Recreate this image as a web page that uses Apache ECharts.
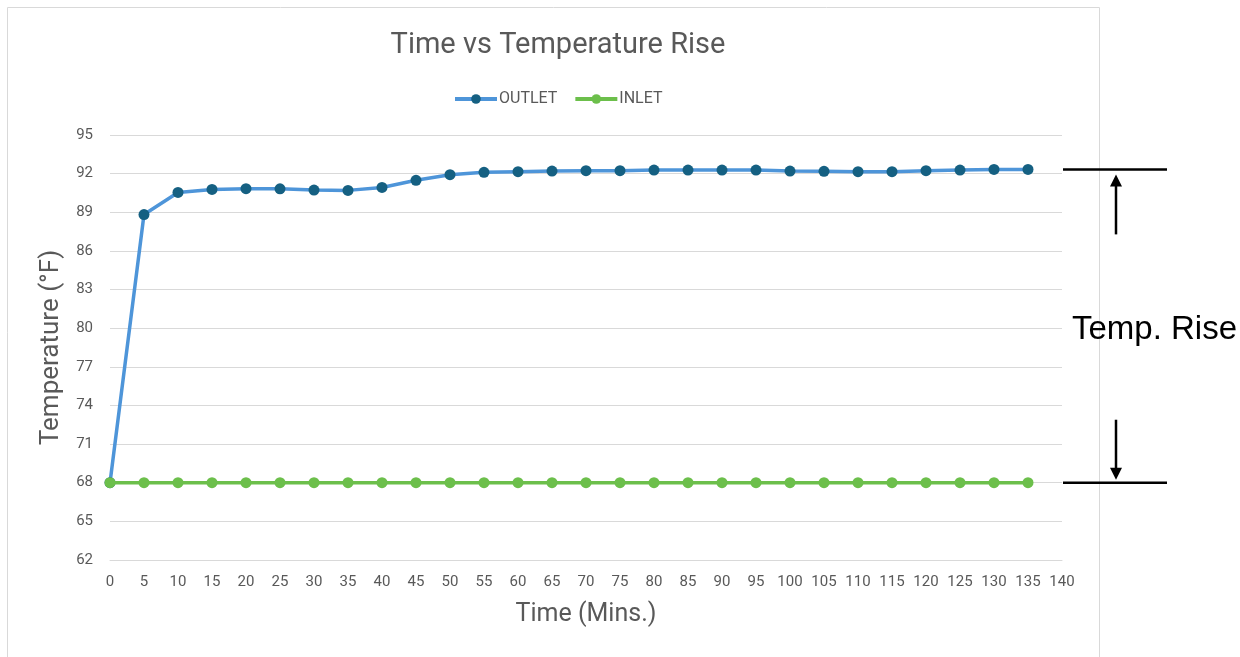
<!DOCTYPE html>
<html><head><meta charset="utf-8">
<script src="https://cdn.jsdelivr.net/npm/echarts@6/dist/echarts.min.js"></script>
<style>html,body{margin:0;padding:0;background:#fff}#c{width:1240px;height:657px}</style>
</head><body><div id="c"></div>
<script>
const timeLabels = ['0','5','10','15','20','25','30','35','40','45','50','55','60','65','70','75','80','85','90','95','100','105','110','115','120','125','130','135','140'];
const outlet = [68, 88.82, 90.54, 90.77, 90.83, 90.82, 90.72, 90.7, 90.93, 91.48, 91.92, 92.1, 92.15, 92.2, 92.23, 92.23, 92.28, 92.28, 92.28, 92.28, 92.2, 92.18, 92.15, 92.15, 92.23, 92.28, 92.33, 92.33];
const inlet = [68,68,68,68,68,68,68,68,68,68,68,68,68,68,68,68,68,68,68,68,68,68,68,68,68,68,68,68];
const riseTop = 92.33, riseBottom = 68;

const gray = '#595959';
const font = 'Roboto';
const chart = echarts.init(document.getElementById('c'), null, {renderer:'canvas'});
chart.setOption({
  animation:false,
  title:{text:'Time vs Temperature Rise', left:553, top:26, textAlign:'center',
    textStyle:{color:gray, fontSize:29, fontWeight:'normal', fontFamily:font}},
  legend:{top:86, left:448, itemWidth:42, itemHeight:12, itemGap:16,
    lineStyle:{width:4},
    textStyle:{color:gray, fontSize:16, fontFamily:font, padding:[0,0,0,-3]},
    data:['OUTLET','INLET']},
  grid:{left:110, right:178, top:135, bottom:97},
  xAxis:{type:'category', data:timeLabels, boundaryGap:false,
    name:'Time (Mins.)', nameLocation:'middle', nameGap:42,
    nameTextStyle:{color:gray, fontSize:25, fontFamily:font},
    axisLine:{show:true, lineStyle:{color:'#d9d9d9'}}, axisTick:{show:false},
    axisLabel:{color:gray, fontSize:15, fontFamily:font, margin:15, interval:0}},
  yAxis:{type:'value', min:62, max:95, interval:3,
    name:'Temperature (°F)', nameLocation:'middle', nameGap:46, nameRotate:90,
    nameTextStyle:{color:gray, fontSize:26, fontFamily:font},
    axisLine:{show:false}, axisTick:{show:false},
    axisLabel:{color:gray, fontSize:15, fontFamily:font, margin:17},
    splitLine:{lineStyle:{color:'#d9d9d9', width:1}}},
  series:[
    {name:'OUTLET', type:'line', data:outlet, symbol:'circle', symbolSize:11,
      lineStyle:{color:'#4E95D9', width:3.5}, itemStyle:{color:'#156082', borderWidth:0}, z:2},
    {name:'INLET', type:'line', data:inlet, symbol:'circle', symbolSize:11,
      lineStyle:{color:'#6CBF4B', width:3.5}, itemStyle:{color:'#6CBF4B', borderWidth:0}, z:3}
  ]
});
const yTop = chart.convertToPixel({yAxisIndex:0}, riseTop);
const yBot = chart.convertToPixel({yAxisIndex:0}, riseBottom);
const x0 = 1063, x1 = 1167, xa = 1116;
chart.setOption({graphic:[
  {type:'rect', shape:{x:7.5,y:7.5,width:1092,height:700}, style:{fill:null, stroke:'#d9d9d9', lineWidth:1}, silent:true},
  {type:'line', shape:{x1:x0,y1:yTop,x2:x1,y2:yTop}, style:{stroke:'#000', lineWidth:2.5}},
  {type:'line', shape:{x1:x0,y1:yBot,x2:x1,y2:yBot}, style:{stroke:'#000', lineWidth:2.5}},
  {type:'line', shape:{x1:xa,y1:yTop+15,x2:xa,y2:yTop+65}, style:{stroke:'#000', lineWidth:2.5}},
  {type:'polygon', shape:{points:[[xa,yTop+5],[xa-6,yTop+17],[xa+6,yTop+17]]}, style:{fill:'#000'}},
  {type:'line', shape:{x1:xa,y1:yBot-63,x2:xa,y2:yBot-14}, style:{stroke:'#000', lineWidth:2.5}},
  {type:'polygon', shape:{points:[[xa,yBot-3],[xa-6,yBot-15],[xa+6,yBot-15]]}, style:{fill:'#000'}},
  {type:'text', left:1072, top:313, style:{text:'Temp. Rise', fill:'#000', font:'33px "Liberation Sans", Arial, sans-serif'}}
]});
</script></body></html>
